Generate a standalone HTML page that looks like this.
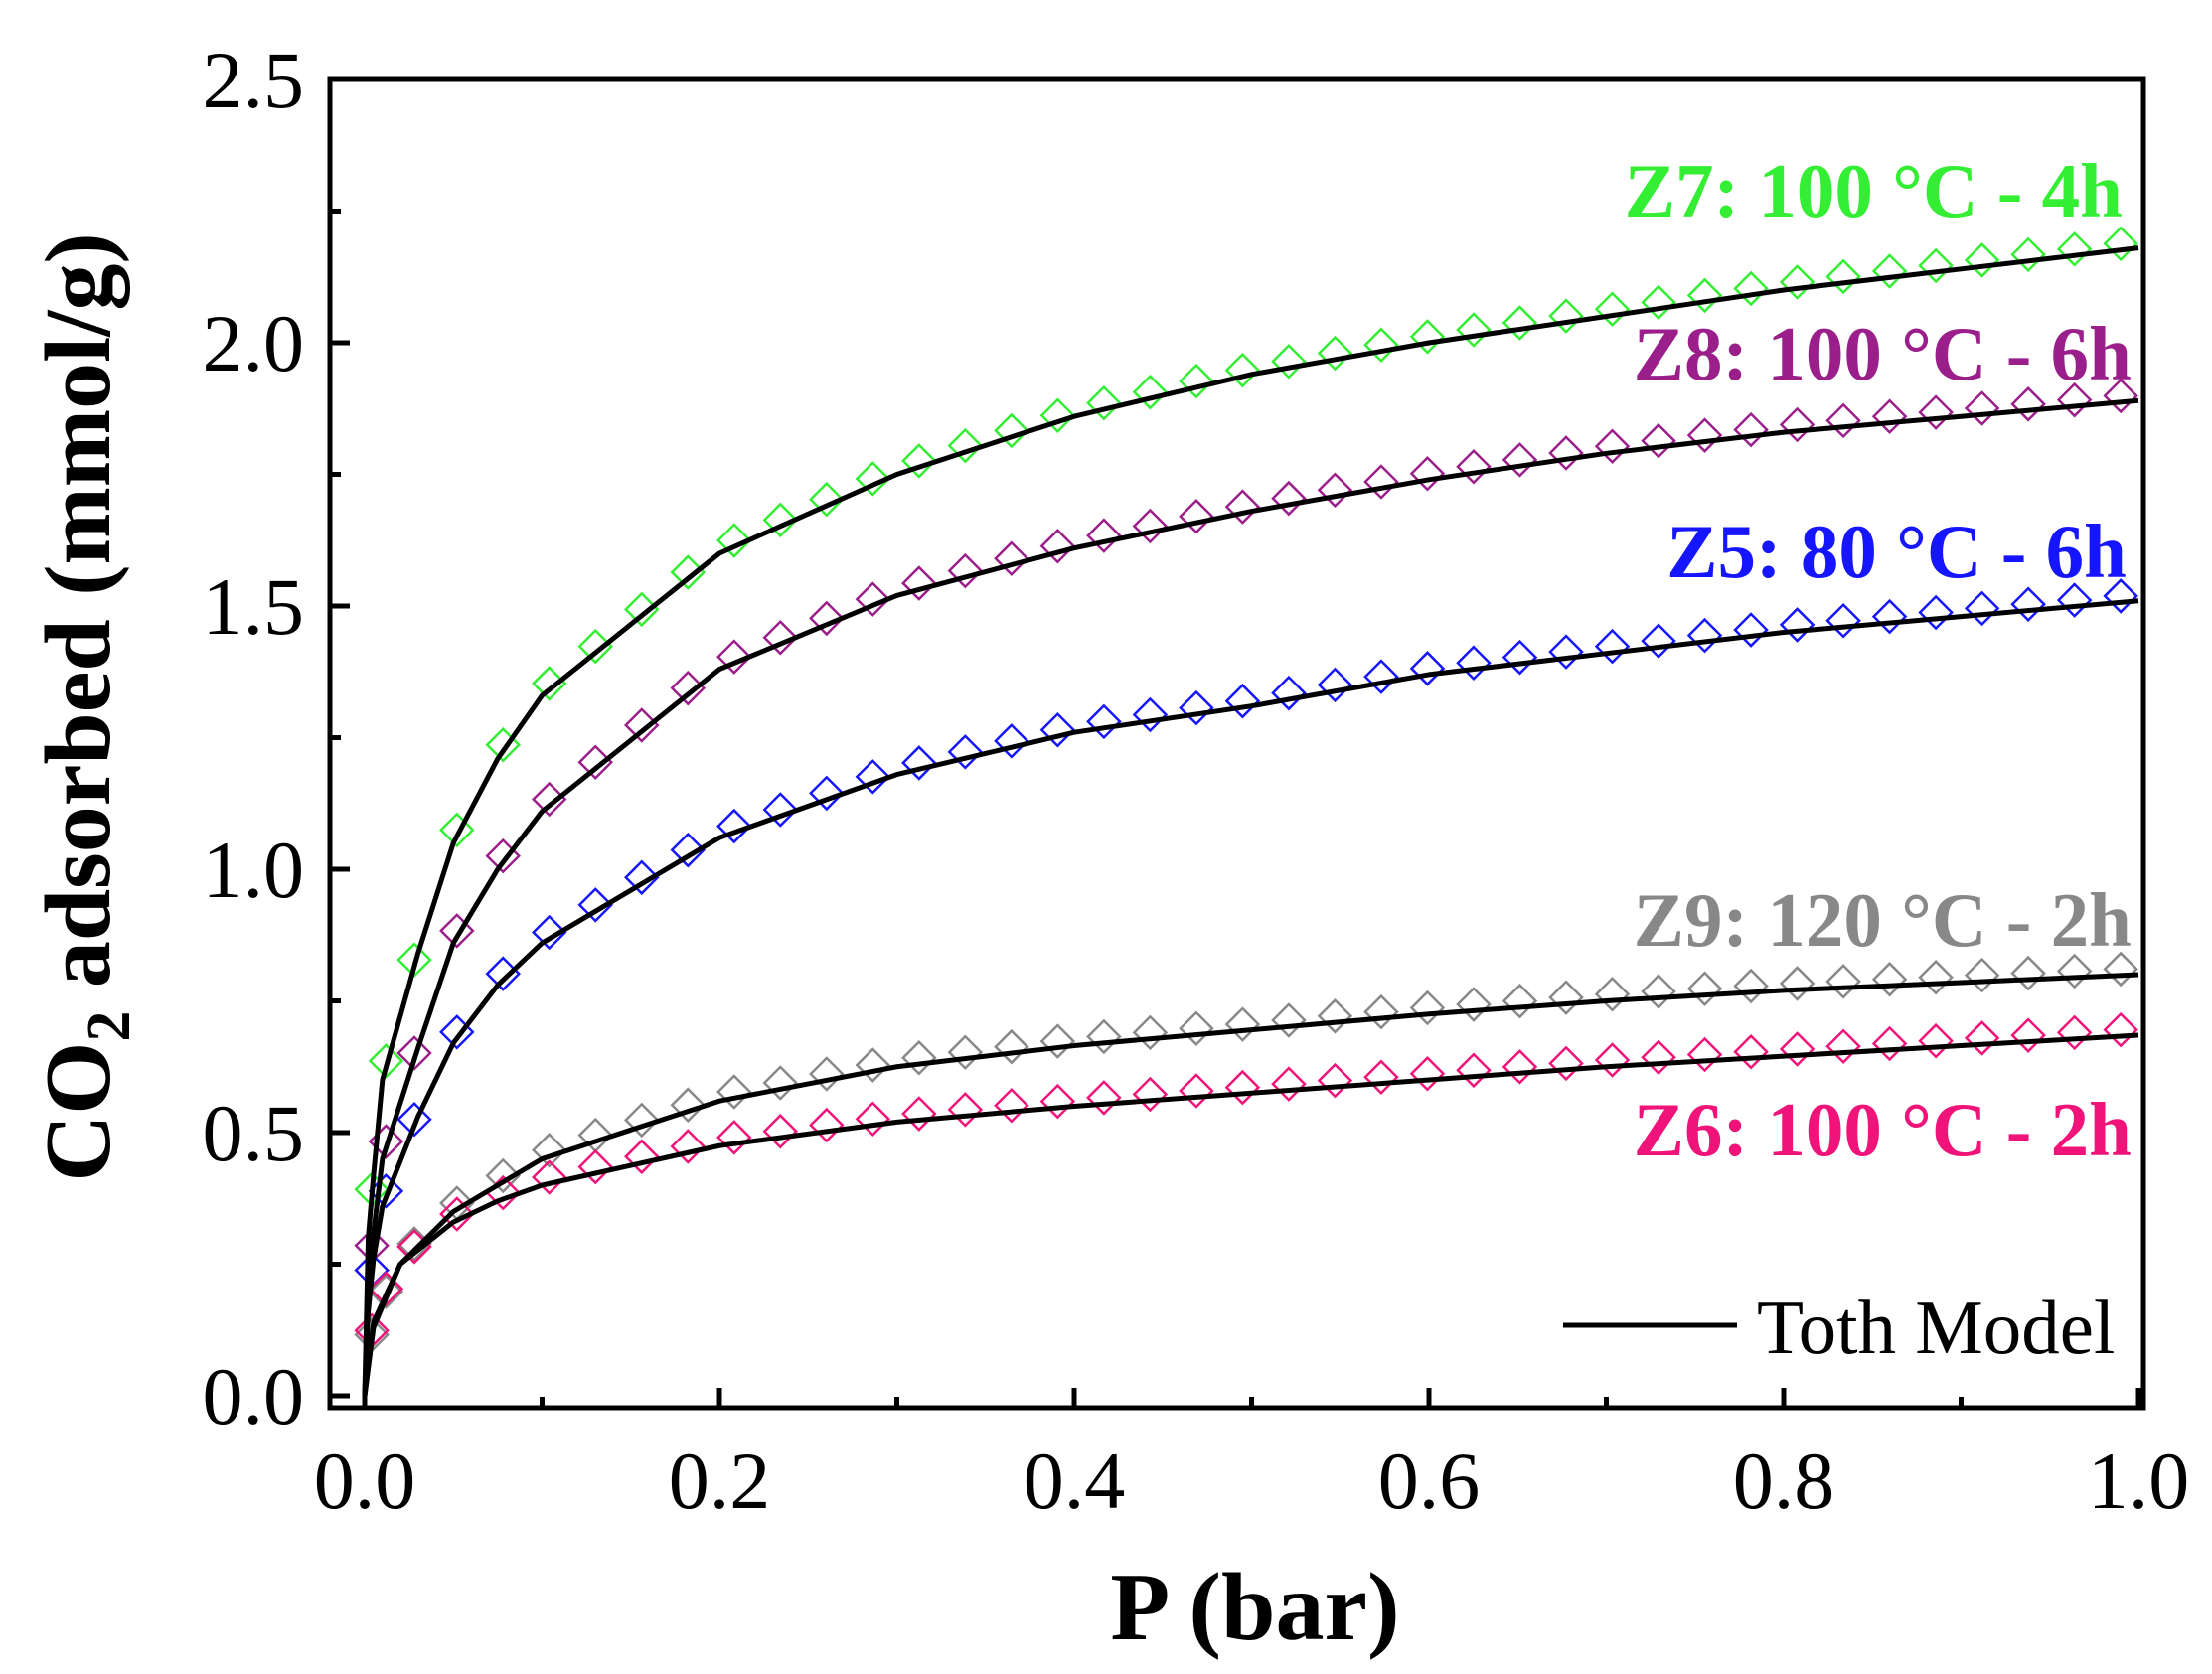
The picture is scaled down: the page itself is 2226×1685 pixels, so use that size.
<!DOCTYPE html>
<html><head><meta charset="utf-8"><style>
html,body{margin:0;padding:0;background:#fff}
svg{display:block}
</style></head><body>
<svg id="s" width="2226" height="1685" xmlns="http://www.w3.org/2000/svg" font-family="Liberation Serif, serif">
<rect width="2226" height="1685" fill="#fff"/>
<g id="data"></g>
<rect x="332" y="80" width="1825" height="1337" fill="none" stroke="#000" stroke-width="5"/>
<g id="ticks" stroke="#000" stroke-width="5"></g>
<g font-size="82" fill="#000" text-anchor="end" id="ylab"></g>
<g font-size="82" fill="#000" text-anchor="middle" id="xlab"></g>
<text x="1263" y="1650" font-size="98" font-weight="bold" text-anchor="middle">P (bar)</text>
<text transform="translate(110,712) rotate(-90)" font-size="94" font-weight="bold" text-anchor="middle">CO<tspan font-size="62" dy="20">2</tspan><tspan dy="-20"> adsorbed (mmol/g)</tspan></text>
<g font-size="77" font-weight="bold" text-anchor="end">
<text x="2136" y="218" fill="#33EE33">Z7: 100 °C - 4h</text>
<text x="2145" y="382" fill="#9B1F8A">Z8: 100 °C - 6h</text>
<text x="2140" y="581" fill="#1515FF">Z5: 80 °C - 6h</text>
<text x="2145" y="952" fill="#888888">Z9: 120 °C - 2h</text>
<text x="2145" y="1163" fill="#F0147A">Z6: 100 °C - 2h</text>
</g>
<line x1="1573" y1="1334" x2="1748" y2="1334" stroke="#000" stroke-width="5"/>
<text x="1768" y="1362" font-size="77">Toth Model</text>
</svg>
<script>
const NS="http://www.w3.org/2000/svg";
const X=p=>367+p*1785, Y=v=>1405-530*v;
function el(parent,tag,attrs){const e=document.createElementNS(NS,tag);for(const k in attrs)e.setAttribute(k,attrs[k]);parent.appendChild(e);return e;}
const tk=document.getElementById('ticks');
for(let i=0;i<=10;i++){const v=i*0.25,y=Y(v),L=i%2?11:20;el(tk,'line',{x1:332,y1:y,x2:332+L,y2:y});}
for(let i=0;i<=10;i++){const p=i*0.1,x=X(p),L=i%2?11:20;el(tk,'line',{x1:x,y1:1417,x2:x,y2:1417-L});}
const yl=document.getElementById('ylab');
for(let i=0;i<=5;i++){const v=i*0.5;el(yl,'text',{x:306,y:Y(v)+28}).textContent=v.toFixed(1);}
const xl=document.getElementById('xlab');
for(let i=0;i<=5;i++){const p=i*0.2;el(xl,'text',{x:X(p),y:1518}).textContent=p.toFixed(1);}
const S=[
 {c:"#33EE33",a:[[0,0],[0.002,0.3],[0.005,0.42],[0.01,0.6],[0.03,0.84],[0.05,1.05],[0.075,1.21],[0.1,1.33],[0.2,1.6],[0.3,1.75],[0.4,1.86],[0.5,1.94],[0.6,2.0],[0.7,2.05],[0.8,2.1],[0.9,2.14],[1.0,2.18]]},
 {c:"#9B1F8A",a:[[0,0],[0.002,0.2],[0.005,0.31],[0.01,0.45],[0.03,0.66],[0.05,0.86],[0.075,1.0],[0.1,1.11],[0.2,1.38],[0.3,1.52],[0.4,1.61],[0.5,1.68],[0.6,1.74],[0.7,1.79],[0.8,1.83],[0.9,1.86],[1.0,1.89]]},
 {c:"#1515FF",a:[[0,0],[0.002,0.16],[0.005,0.26],[0.01,0.36],[0.03,0.53],[0.05,0.67],[0.075,0.78],[0.1,0.86],[0.2,1.06],[0.3,1.18],[0.4,1.26],[0.5,1.31],[0.6,1.37],[0.7,1.41],[0.8,1.45],[0.9,1.48],[1.0,1.51]]},
 {c:"#888888",a:[[0,0],[0.005,0.13],[0.02,0.25],[0.05,0.35],[0.075,0.4],[0.1,0.45],[0.2,0.56],[0.3,0.625],[0.4,0.665],[0.5,0.695],[0.6,0.725],[0.7,0.75],[0.8,0.77],[0.9,0.785],[1.0,0.8]]},
 {c:"#F0147A",a:[[0,0],[0.005,0.14],[0.02,0.25],[0.05,0.33],[0.075,0.37],[0.1,0.4],[0.2,0.475],[0.3,0.52],[0.4,0.55],[0.5,0.575],[0.6,0.6],[0.7,0.625],[0.8,0.645],[0.9,0.665],[1.0,0.685]]}
];
function interp(a,p){for(let i=1;i<a.length;i++){if(p<=a[i][0]){const t=(p-a[i-1][0])/(a[i][0]-a[i-1][0]);return a[i-1][1]+t*(a[i][1]-a[i-1][1]);}}return a[a.length-1][1];}
const g=document.getElementById('data');
const Ps=[0.004,0.012,0.028,0.052];for(let i=0;i<=35;i++)Ps.push(0.078+i*(0.99-0.078)/35);
for(const s of S){
 for(const p of Ps){const v=interp(s.a,p)+0.012,x=X(p),y=Y(v),r=16;
  el(g,'polygon',{points:`${x},${y-r} ${x+r},${y} ${x},${y+r} ${x-r},${y}`,fill:"none",stroke:s.c,"stroke-width":2.5});}
}
for(const s of S){
 el(g,'polyline',{points:s.a.map(q=>X(q[0])+","+Y(q[1])).join(" "),fill:"none",stroke:"#000","stroke-width":5,"stroke-linejoin":"round"});
}
</script>
</body></html>
